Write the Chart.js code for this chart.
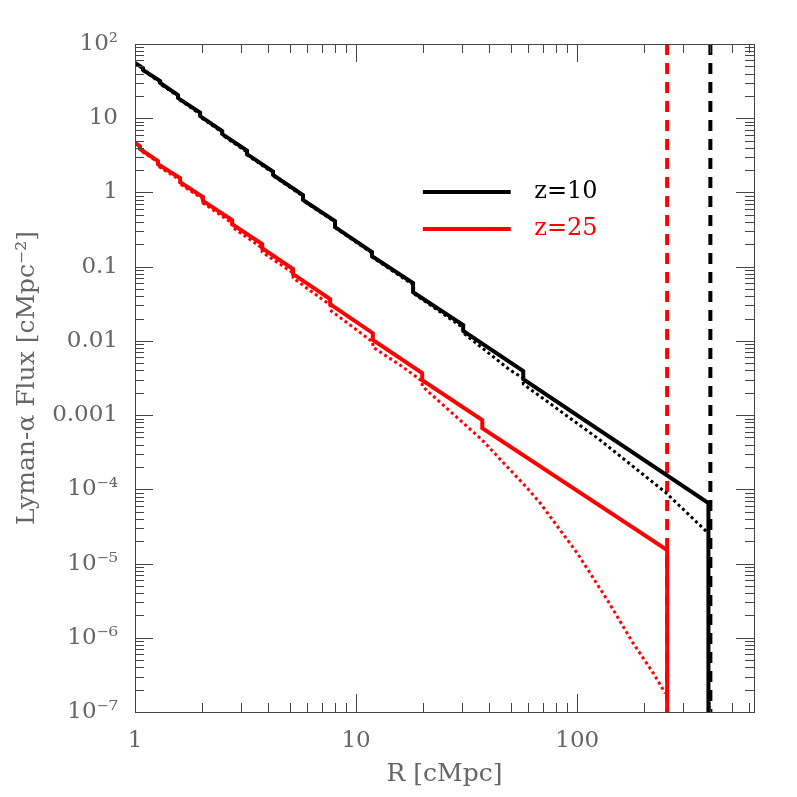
<!DOCTYPE html>
<html>
<head>
<meta charset="utf-8">
<script src="https://cdn.jsdelivr.net/npm/chart.js@4.4.1/dist/chart.umd.min.js"></script>
<style>
body { margin: 0; background: #fff; }
</style>
</head>
<body>
<canvas id="canvasGraficas" width="797" height="797"></canvas>
<script>
// z=10, linea continua
var radioZ10 = [1, 1.087, 1.087, 1.30, 1.30, 1.565, 1.565, 1.97, 1.97, 2.48, 2.48, 3.21, 3.21, 4.21, 4.21, 5.75, 5.75, 8.03, 8.03, 11.8, 11.8, 18.1, 18.1, 30.5, 30.5, 57.0, 57.0, 392, 392];
var flujoZ10 = [55.5, 47.5, 44.6, 31.7, 29.8, 20.5, 18.7, 11.9, 10.7, 6.72, 6.12, 3.67, 3.29, 1.91, 1.72, 0.923, 0.790, 0.412, 0.342, 0.157, 0.139, 0.0601, 0.0455, 0.0163, 0.0136, 0.00392, 0.00305, 6.52e-5, 1e-7];
// z=10, linea punteada
var radioZ10p = [1, 1.087, 1.087, 1.30, 1.30, 1.565, 1.565, 1.97, 1.97, 2.48, 2.48, 3.21, 3.21, 4.21, 4.21, 5.75, 5.75, 8.03, 8.03, 11.8, 11.8, 18.1, 18.1, 30.5, 30.5, 49.7, 57.0, 57.0, 127, 250, 387];
var flujoZ10p = [55.5, 46.5, 44.0, 30.5, 29.0, 19.8, 18.3, 11.4, 10.4, 6.45, 5.95, 3.50, 3.20, 1.84, 1.68, 0.890, 0.775, 0.400, 0.335, 0.152, 0.135, 0.0570, 0.0440, 0.0150, 0.0128, 0.00404, 0.00315, 0.00262, 4.60e-4, 9.16e-5, 2.65e-5];
// z=25, linea continua
var radioZ25 = [1, 1.053, 1.053, 1.27, 1.27, 1.60, 1.60, 2.03, 2.03, 2.75, 2.75, 3.76, 3.76, 5.19, 5.19, 7.63, 7.63, 11.9, 11.9, 19.9, 19.9, 37.2, 37.2, 255, 255];
var flujoZ25 = [4.63, 4.22, 3.85, 2.65, 2.41, 1.56, 1.38, 0.867, 0.766, 0.425, 0.375, 0.202, 0.178, 0.0929, 0.0795, 0.0366, 0.0313, 0.0127, 0.0103, 0.00368, 0.00296, 8.57e-4, 6.68e-4, 1.52e-5, 1e-7];
// z=25, linea punteada
var radioZ25p = [1, 1.053, 1.053, 1.27, 1.27, 1.60, 1.60, 2.03, 2.03, 2.75, 2.75, 3.76, 3.76, 5.19, 5.19, 7.63, 7.63, 11.9, 11.9, 15.8, 19.9, 19.9, 37.2, 59.4, 68.0, 100, 137, 179, 221, 250];
var flujoZ25p = [4.63, 4.09, 3.73, 2.57, 2.27, 1.47, 1.30, 0.815, 0.720, 0.387, 0.342, 0.178, 0.157, 0.0820, 0.0702, 0.0304, 0.0260, 0.00964, 0.00824, 0.00472, 0.00287, 0.00246, 4.60e-4, 1.04e-4, 6.52e-5, 1.38e-5, 3.21e-6, 8.45e-7, 3.33e-7, 1.79e-7];
// lineas verticales discontinuas
var radioCorteZ10 = 400;
var radioCorteZ25 = 255;

var etiquetasSerie = ["z=10", "z=25"];
var coloresSerie = ["#000000", "#ff0000"];

var valoresEjeX = [1, 10, 100];
var etiquetasEjeX = ["1", "10", "100"];
var valoresEjeY = [1e-7, 1e-6, 1e-5, 1e-4, 1e-3, 1e-2, 1e-1, 1, 10, 100];
var etiquetasEjeY = ["10\u207b\u2077", "10\u207b\u2076", "10\u207b\u2075", "10\u207b\u2074", "0.001", "0.01", "0.1", "1", "10", "10\u00b2"];

function puntos(xs, ys) {
    var lista = [];
    for (var i = 0; i < xs.length; i++) {
        lista.push({ x: xs[i], y: ys[i] });
    }
    return lista;
}

var fuente = "'DejaVu Serif', serif";

var marcoPlugin = {
    id: "marco",
    afterDraw: function (chart) {
        var ctx = chart.ctx;
        var area = chart.chartArea;
        var ejeX = chart.scales.x;
        var ejeY = chart.scales.y;
        ctx.save();
        ctx.strokeStyle = "#444444";
        ctx.lineWidth = 1;
        ctx.beginPath();
        for (var d = 0; d < valoresEjeX.length; d++) {
            for (var m = 1; m <= 9; m++) {
                var v = m * valoresEjeX[d];
                if (v > ejeX.max) continue;
                var px = Math.round(ejeX.getPixelForValue(v)) + 0.5;
                var largo = m === 1 ? 18 : 9;
                ctx.moveTo(px, area.bottom);
                ctx.lineTo(px, area.bottom - largo);
                ctx.moveTo(px, area.top);
                ctx.lineTo(px, area.top + largo);
            }
        }
        for (var k = 0; k < valoresEjeY.length; k++) {
            for (var n = 1; n <= 9; n++) {
                var w = n * valoresEjeY[k];
                if (w > ejeY.max * 1.0001) continue;
                var py = Math.round(ejeY.getPixelForValue(w)) + 0.5;
                var largoY = n === 1 ? 18 : 9;
                ctx.moveTo(area.left, py);
                ctx.lineTo(area.left + largoY, py);
                ctx.moveTo(area.right, py);
                ctx.lineTo(area.right - largoY, py);
            }
        }
        ctx.stroke();
        ctx.strokeRect(area.left + 0.5, area.top + 0.5, area.right - area.left, area.bottom - area.top);

        // leyenda
        var ancho = area.right - area.left;
        var alto = area.bottom - area.top;
        ctx.lineWidth = 4;
        ctx.font = "24px " + fuente;
        ctx.textBaseline = "middle";
        ctx.textAlign = "left";
        for (var i = 0; i < etiquetasSerie.length; i++) {
            var yl = area.top + alto * (0.2216 + 0.0554 * i);
            ctx.strokeStyle = coloresSerie[i];
            ctx.beginPath();
            ctx.moveTo(area.left + ancho * 0.465, yl);
            ctx.lineTo(area.left + ancho * 0.607, yl);
            ctx.stroke();
            ctx.fillStyle = coloresSerie[i];
            ctx.fillText(etiquetasSerie[i], area.left + ancho * 0.645, yl);
        }
        ctx.restore();
    }
};

var datosGrafica = {
    datasets: [
        {
            label: etiquetasSerie[0],
            data: puntos(radioZ10, flujoZ10),
            borderColor: coloresSerie[0],
            borderWidth: 4
        },
        {
            label: etiquetasSerie[1],
            data: puntos(radioZ25, flujoZ25),
            borderColor: coloresSerie[1],
            borderWidth: 4
        },
        {
            label: etiquetasSerie[0] + " punteada",
            data: puntos(radioZ10p, flujoZ10p),
            borderColor: coloresSerie[0],
            borderWidth: 3,
            borderDash: [3, 3]
        },
        {
            label: etiquetasSerie[1] + " punteada",
            data: puntos(radioZ25p, flujoZ25p),
            borderColor: coloresSerie[1],
            borderWidth: 3,
            borderDash: [3, 3]
        },
        {
            label: "corte z=10",
            data: [{ x: radioCorteZ10, y: 100 }, { x: radioCorteZ10, y: 1e-7 }],
            borderColor: coloresSerie[0],
            borderWidth: 4,
            borderDash: [11, 8]
        },
        {
            label: "corte z=25",
            data: [{ x: radioCorteZ25, y: 100 }, { x: radioCorteZ25, y: 1e-7 }],
            borderColor: coloresSerie[1],
            borderWidth: 4,
            borderDash: [11, 8]
        }
    ]
};

var grafica = new Chart(document.getElementById("canvasGraficas"), {
    type: "line",
    data: datosGrafica,
    plugins: [marcoPlugin],
    options: {
        responsive: false,
        animation: false,
        devicePixelRatio: 1,
        layout: { padding: { left: 0, right: 43, top: 44, bottom: 0 } },
        elements: {
            point: { radius: 0, hoverRadius: 0 },
            line: { tension: 0, fill: false, borderCapStyle: "butt", borderJoinStyle: "miter" }
        },
        plugins: {
            legend: { display: false },
            tooltip: { enabled: false }
        },
        scales: {
            x: {
                type: "logarithmic",
                min: 1,
                max: 630,
                grid: { display: false, drawTicks: false },
                border: { display: false },
                afterBuildTicks: function (eje) {
                    eje.ticks = valoresEjeX.map(function (v) { return { value: v }; });
                },
                afterFit: function (eje) { eje.height = 85; },
                ticks: {
                    autoSkip: false,
                    maxRotation: 0,
                    padding: 15,
                    color: "#666666",
                    font: { family: fuente, size: 23 },
                    callback: function (valor) {
                        var i = valoresEjeX.indexOf(valor);
                        return i >= 0 ? etiquetasEjeX[i] : "";
                    }
                },
                title: {
                    display: true,
                    text: "R [cMpc]",
                    color: "#666666",
                    font: { family: fuente, size: 25 },
                    padding: { top: 0, bottom: 8 }
                }
            },
            y: {
                type: "logarithmic",
                min: 1e-7,
                max: 100,
                grid: { display: false, drawTicks: false },
                border: { display: false },
                afterBuildTicks: function (eje) {
                    eje.ticks = valoresEjeY.map(function (v) { return { value: v }; });
                },
                afterFit: function (eje) { eje.width = 135; },
                ticks: {
                    autoSkip: false,
                    padding: 17,
                    color: "#666666",
                    font: { family: fuente, size: 23 },
                    callback: function (valor) {
                        for (var i = 0; i < valoresEjeY.length; i++) {
                            if (Math.abs(valor / valoresEjeY[i] - 1) < 1e-6) return etiquetasEjeY[i];
                        }
                        return "";
                    }
                },
                title: {
                    display: true,
                    text: "Lyman-\u03b1 Flux [cMpc\u207b\u00b2]",
                    color: "#666666",
                    font: { family: fuente, size: 25 },
                    padding: { top: 12, bottom: 0 }
                }
            }
        }
    }
});
</script>
</body>
</html>
